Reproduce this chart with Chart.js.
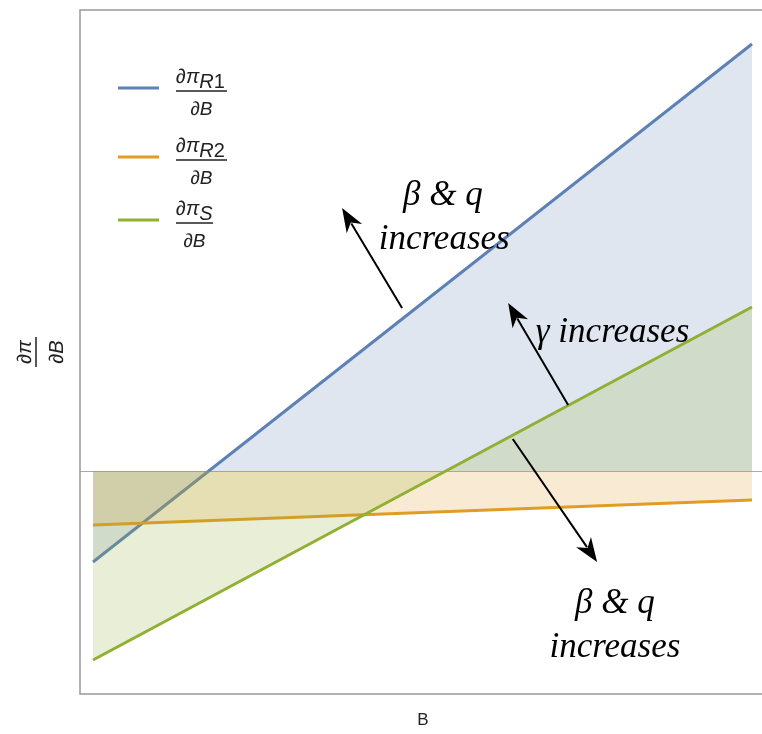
<!DOCTYPE html>
<html>
<head>
<meta charset="utf-8">
<script src="https://cdn.jsdelivr.net/npm/chart.js@4"></script>
<style>
  html, body { margin: 0; padding: 0; background: #fff; }
  #wrap { width: 762px; height: 734px; position: relative; }
</style>
</head>
<body>
<div id="wrap"><canvas id="c" width="762" height="734"></canvas></div>
<script>
// Marginal profit with respect to B, for the two retailers and the supplier
const B = [0, 1];
const dPiR1 = [-0.91, 4.27];
const dPiR2 = [-0.54, -0.29];
const dPiS = [-1.89, 1.64];

const seriesSubs = [['R', '1'], ['R', '2'], ['S', '']];
const seriesColors = ['#5e81b5', '#e19c24', '#8fb032'];
const fillColors = ['rgba(94,129,181,0.2)', 'rgba(225,156,36,0.2)', 'rgba(143,176,50,0.2)'];

// Annotations in data units: arrows [x0, y0, x1, y1] and text [label, x, y]
const arrows = [
  [0.469, 1.63, 0.378, 2.63],
  [0.721, 0.66, 0.630, 1.68],
  [0.637, 0.32, 0.765, -0.91]
];
const notes = [
  ['\u03b2 & q', 0.531, 2.75, 'center'],
  ['increases', 0.533, 2.31, 'center'],
  ['\u03b3 increases', 0.672, 1.38, 'left'],
  ['\u03b2 & q', 0.792, -1.33, 'center'],
  ['increases', 0.792, -1.77, 'center']
];

function pts(ys) { return B.map((x, i) => ({ x: x, y: ys[i] })); }

const SANS = '"Liberation Sans", Arial, sans-serif';

const frame = {
  id: 'frame',
  beforeDatasetsDraw(chart) {
    const { ctx, chartArea: a, scales } = chart;
    const y0 = scales.y.getPixelForValue(0);
    ctx.save();
    ctx.strokeStyle = '#aaaaaa';
    ctx.lineWidth = 1;
    ctx.beginPath();
    ctx.moveTo(a.left, y0 + 0.5);
    ctx.lineTo(a.right, y0 + 0.5);
    ctx.stroke();
    ctx.restore();
  },
  afterDraw(chart) {
    const { ctx, chartArea: a, scales } = chart;
    ctx.save();
    // frame on left, top and bottom
    ctx.strokeStyle = '#999999';
    ctx.lineWidth = 1.5;
    ctx.beginPath();
    ctx.moveTo(a.right, a.top);
    ctx.lineTo(a.left, a.top);
    ctx.lineTo(a.left, a.bottom);
    ctx.lineTo(a.right, a.bottom);
    ctx.stroke();

    // arrows
    ctx.strokeStyle = '#000';
    ctx.fillStyle = '#000';
    ctx.lineWidth = 2;
    arrows.forEach(([x0, y0, x1, y1]) => {
      const px0 = scales.x.getPixelForValue(x0), py0 = scales.y.getPixelForValue(y0);
      const px1 = scales.x.getPixelForValue(x1), py1 = scales.y.getPixelForValue(y1);
      const ang = Math.atan2(py1 - py0, px1 - px0);
      const c = Math.cos(ang), s = Math.sin(ang);
      const hl = 24, hw = 9;
      const bx = px1 - hl * c, by = py1 - hl * s;
      ctx.beginPath();
      ctx.moveTo(px0, py0);
      ctx.lineTo(bx + 6 * c, by + 6 * s);
      ctx.stroke();
      ctx.beginPath();
      ctx.moveTo(px1, py1);
      ctx.lineTo(bx - hw * s, by + hw * c);
      ctx.lineTo(bx + 7 * c, by + 7 * s);
      ctx.lineTo(bx + hw * s, by - hw * c);
      ctx.closePath();
      ctx.fill();
    });

    // annotation text
    ctx.font = 'italic 35px "Liberation Serif", "DejaVu Serif", serif';
    ctx.textBaseline = 'middle';
    notes.forEach(([t, x, y, al]) => {
      ctx.textAlign = al;
      ctx.fillText(t, scales.x.getPixelForValue(x), scales.y.getPixelForValue(y));
    });

    // legend
    const lx = 118, tx = 176;
    const rowY = [88, 157, 220];
    seriesSubs.forEach(([sub, idx], i) => {
      const y = rowY[i];
      ctx.strokeStyle = seriesColors[i];
      ctx.lineWidth = 3;
      ctx.beginPath();
      ctx.moveTo(lx, y);
      ctx.lineTo(lx + 41, y);
      ctx.stroke();
      ctx.fillStyle = '#222';
      ctx.textAlign = 'left';
      ctx.textBaseline = 'alphabetic';
      ctx.font = 'italic 20px ' + SANS;
      ctx.fillText('\u2202\u03c0', tx, y - 5);
      const w = ctx.measureText('\u2202\u03c0').width;
      ctx.fillText(sub, tx + w, y);
      const w2 = ctx.measureText(sub).width;
      if (idx) {
        ctx.font = '20px ' + SANS;
        ctx.fillText(idx, tx + w + w2, y);
      }
      const barW = idx ? 51 : 37;
      ctx.strokeStyle = '#222';
      ctx.lineWidth = 1.5;
      ctx.beginPath();
      ctx.moveTo(tx, y + 3);
      ctx.lineTo(tx + barW, y + 3);
      ctx.stroke();
      ctx.font = 'italic 19px ' + SANS;
      ctx.textAlign = 'center';
      ctx.fillText('\u2202B', tx + barW / 2, y + 27);
    });

    // axis titles
    ctx.fillStyle = '#222';
    ctx.font = '17px ' + SANS;
    ctx.textAlign = 'center';
    ctx.textBaseline = 'middle';
    ctx.fillText('B', (a.left + a.right) / 2 + 2, 720);

    ctx.translate(36, 352);
    ctx.rotate(-Math.PI / 2);
    ctx.font = 'italic 20px ' + SANS;
    ctx.textBaseline = 'alphabetic';
    ctx.fillText('\u2202\u03c0', 0, -5);
    ctx.fillText('\u2202B', 0, 27);
    ctx.strokeStyle = '#222';
    ctx.lineWidth = 1.5;
    ctx.beginPath();
    ctx.moveTo(-15, 0);
    ctx.lineTo(15, 0);
    ctx.stroke();
    ctx.restore();
  }
};

const datasets = [dPiS, dPiR2, dPiR1].map((ys, k) => {
  const i = 2 - k;
  return {
    data: pts(ys),
    borderColor: seriesColors[i],
    backgroundColor: fillColors[i],
    borderWidth: 3,
    pointRadius: 0,
    tension: 0,
    fill: { value: 0 }
  };
});

new Chart(document.getElementById('c'), {
  type: 'line',
  data: { datasets },
  options: {
    responsive: false,
    animation: false,
    layout: { padding: { left: 80, top: 10, right: 0, bottom: 40 } },
    plugins: { legend: { display: false }, tooltip: { enabled: false } },
    scales: {
      x: { type: 'linear', min: -0.0197, max: 1.0152, display: false },
      y: { type: 'linear', min: -2.23, max: 4.61, display: false }
    }
  },
  plugins: [frame]
});
</script>
</body>
</html>
